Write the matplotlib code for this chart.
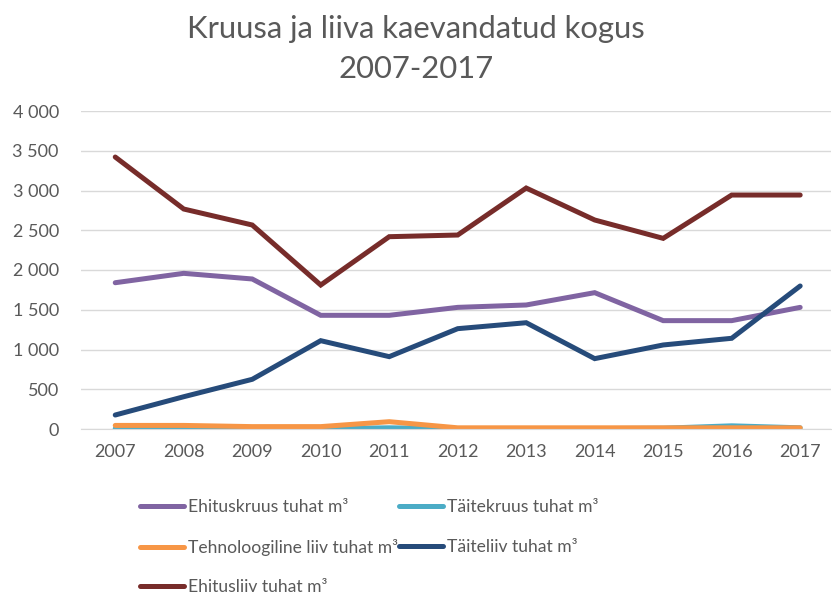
import matplotlib
matplotlib.use("Agg")
import matplotlib.pyplot as plt
from matplotlib.ticker import FuncFormatter, MultipleLocator

plt.rcParams['font.family'] = ['Lato', 'DejaVu Sans']

years = ["2007", "2008", "2009", "2010", "2011", "2012", "2013", "2014", "2015", "2016", "2017"]
ehituskruus = [1840, 1958, 1887, 1430, 1430, 1530, 1560, 1715, 1363, 1363, 1530]
taitekruus = [5, 5, 5, 5, 15, 5, 5, 5, 10, 40, 15]
tehnoloogiline = [45, 45, 30, 30, 92, 15, 15, 15, 15, 15, 15]
taiteliiv = [176, 406, 625, 1111, 910, 1262, 1337, 885, 1057, 1141, 1799]
ehitusliiv = [3421, 2767, 2566, 1811, 2419, 2440, 3031, 2629, 2398, 2943, 2943]

labels = ["Ehituskruus tuhat m³", "Täitekruus tuhat m³", "Tehnoloogiline liiv tuhat m³",
          "Täiteliiv tuhat m³", "Ehitusliiv tuhat m³"]
colors = ["#8064A2", "#4BACC6", "#F79646", "#264B7A", "#772C2A"]
series = [ehituskruus, taitekruus, tehnoloogiline, taiteliiv, ehitusliiv]

fig = plt.figure(figsize=(8.32, 5.97), dpi=100)
ax = fig.add_axes([81/832, 1-429/597, (831-81)/832, (429-111)/597])

x = list(range(len(years)))
handles = []
for s, c, l in zip(series, colors, labels):
    h, = ax.plot(x, s, color=c, lw=3.6, label=l, solid_capstyle='round', solid_joinstyle='miter')
    handles.append(h)

ax.set_xlim(-0.5, 10.45)
ax.set_ylim(0, 4000)
ax.yaxis.set_major_locator(MultipleLocator(500))
ax.yaxis.set_major_formatter(FuncFormatter(lambda v, p: f"{int(v):,}".replace(",", " ")))
ax.set_xticks(x)
ax.set_xticklabels(years)
ax.grid(axis='y', color='#d9d9d9', lw=1)
ax.set_axisbelow(True)
for sp in ['top', 'right', 'left']:
    ax.spines[sp].set_visible(False)
ax.spines['bottom'].set_color('#d9d9d9')
ax.tick_params(axis='both', length=0, labelsize=13, colors='#595959')
ax.tick_params(axis='y', pad=16)
ax.tick_params(axis='x', pad=11)

fig.text(0.5, 1-29/597, "Kruusa ja liiva kaevandatud kogus", ha='center', va='center',
         fontsize=22.3, color='#595959')
fig.text(0.5, 1-69/597, "2007-2017", ha='center', va='center', fontsize=22.3, color='#595959')

leg_kw = dict(loc='upper left', frameon=False, fontsize=12.6, labelcolor='#595959',
              handlelength=2.5, handletextpad=0.25, labelspacing=1.35, borderaxespad=0)
col1 = [0, 2, 4]
col2 = [1, 3]
leg1 = fig.legend([handles[i] for i in col1], [labels[i] for i in col1],
                  bbox_to_anchor=(133/832, 1-492/597), **leg_kw)
leg2 = fig.legend([handles[i] for i in col2], [labels[i] for i in col2],
                  bbox_to_anchor=(392/832, 1-492/597), **leg_kw)

fig.savefig("out.png", dpi=100)
